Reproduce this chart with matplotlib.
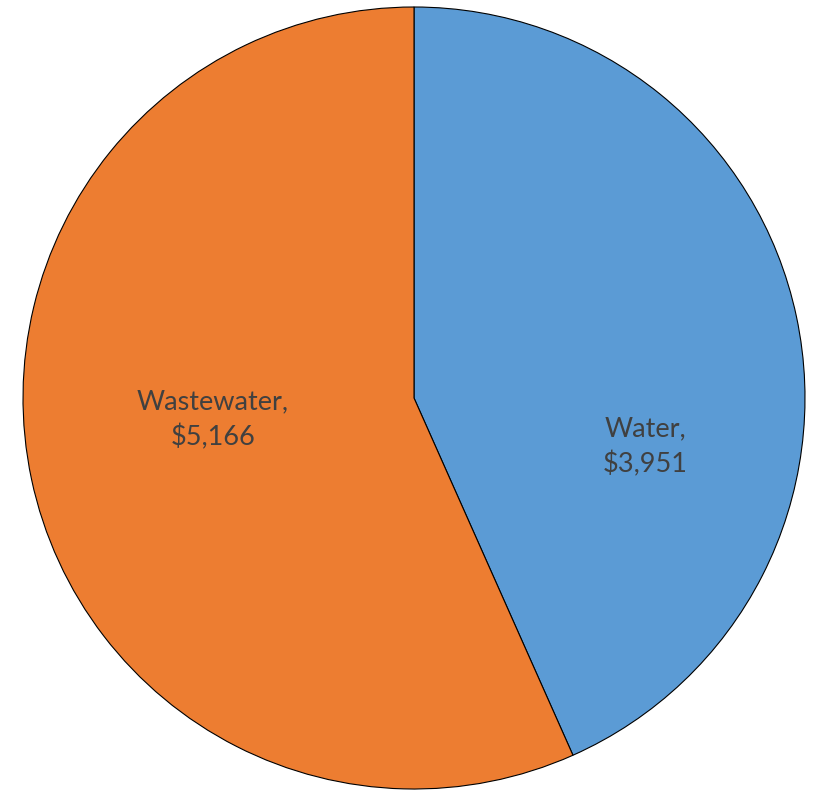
import matplotlib.pyplot as plt

# values of the two slices
labels = ['Water', 'Wastewater']
values = [3951, 5166]
colors = ['#5B9BD5', '#ED7D31']

W, H = 818, 793
cx, cy, r = 414, H - 398, 391

fig = plt.figure(figsize=(W / 100, H / 100), dpi=100)
ax = fig.add_axes([0, 0, 1, 1])

wedges, _ = ax.pie(values, colors=colors, startangle=90, counterclock=False,
                   center=(cx, cy), radius=r,
                   wedgeprops={'edgecolor': 'black', 'linewidth': 0.8})

# data label positions (Excel style, inside the slices)
label_pos = [(645, H - 447), (213, H - 420)]
for name, val, (x, y) in zip(labels, values, label_pos):
    ax.text(x, y, f'{name},\n${val:,}', ha='center', va='center',
            fontsize=19.5, color='#404040', family='Lato', linespacing=1.45)

ax.set_xlim(0, W)
ax.set_ylim(0, H)
ax.set_aspect('equal')
ax.axis('off')

fig.savefig('out.png', dpi=100)
